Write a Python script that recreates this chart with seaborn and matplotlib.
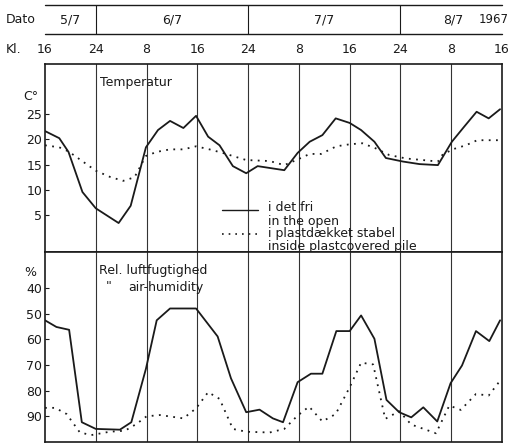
import numpy as np
import pandas as pd
import matplotlib
matplotlib.use("Agg")
import matplotlib.pyplot as plt
import seaborn as sns

# ---- data (hours since 5/7 kl. 16) ----
temp_open_h = [0, 2.25, 3.7, 5.9, 8.0, 11.6, 13.5, 15.9, 17.8, 19.7, 21.8, 23.8, 25.7, 27.5, 29.6, 31.7,
               33.5, 37.7, 39.8, 41.7, 43.7, 45.8, 48.0, 49.8, 51.9, 53.7, 56.4, 59.0, 61.9, 64.1, 66.0,
               68.0, 69.9, 71.7]
temp_open = [21.6, 20.2, 17.5, 9.6, 6.4, 3.5, 6.9, 18.4, 21.8, 23.6, 22.2, 24.6, 20.5, 18.8, 14.7, 13.3,
             14.7, 13.9, 17.3, 19.5, 20.8, 24.1, 23.2, 21.8, 19.5, 16.3, 15.6, 15.1, 14.9, 19.5, 22.4,
             25.4, 24.1, 25.9]
temp_pile_h = [0, 2.25, 3.7, 8.0, 10.2, 12.3, 14.1, 15.9, 17.6, 19.7, 21.8, 23.8, 25.9, 28.0, 30.1, 31.7,
               35.4, 37.7, 39.8, 41.7, 43.5, 45.9, 48.0, 50.0, 52.1, 54.2, 56.9, 59.5, 61.9, 62.6, 64.2,
               66.3, 68.1, 71.7]
temp_pile = [18.8, 18.4, 17.6, 13.8, 12.6, 11.8, 12.5, 16.7, 17.5, 18.0, 18.0, 18.6, 18.0, 17.3, 16.5, 15.9,
             15.7, 14.9, 16.0, 17.1, 17.1, 18.6, 19.0, 19.2, 18.2, 16.9, 16.2, 15.9, 15.6, 16.9, 18.0,
             18.8, 19.8, 19.8]

hum_open_h = [0, 1.8, 3.8, 5.8, 8.0, 11.8, 13.6, 15.9, 17.6, 19.7, 23.8, 27.2, 29.3, 31.7, 33.8, 35.9,
              37.5, 39.8, 41.9, 43.7, 45.9, 48.0, 49.8, 51.9, 53.8, 55.8, 57.7, 59.6, 61.8, 63.9, 65.7,
              67.9, 70.0, 71.7]
hum_open = [52.6, 55.2, 56.3, 92.3, 94.9, 95.2, 92.3, 71.5, 52.6, 48.0, 48.0, 58.9, 75.2, 88.4, 87.4, 90.8,
            92.3, 76.7, 73.4, 73.4, 56.8, 56.8, 50.7, 59.8, 83.6, 88.4, 90.4, 86.5, 92.0, 77.1, 70.2,
            56.8, 60.7, 52.6]
hum_pile_h = [0, 1.6, 3.4, 5.5, 7.3, 10.2, 12.6, 14.4, 16.0, 18.1, 21.8, 23.8, 25.7, 27.5, 29.6, 31.7,
              35.4, 37.7, 39.8, 41.6, 43.7, 45.8, 48.0, 49.8, 51.7, 53.6, 55.8, 57.7, 61.6, 63.7, 65.5,
              67.9, 69.9, 71.7]
hum_pile = [86.7, 86.7, 89.1, 96.3, 97.3, 96.0, 95.6, 93.0, 90.0, 89.5, 90.8, 86.9, 80.6, 83.2, 94.9, 96.0,
            96.3, 94.9, 89.7, 86.2, 92.0, 89.1, 78.7, 69.1, 69.8, 91.0, 88.0, 93.2, 96.6, 85.8, 87.5,
            81.3, 81.9, 76.1]

hour_ticks = [0, 8, 16, 24, 32, 40, 48, 56, 64, 72]
hour_labels = ["16", "24", "8", "16", "24", "8", "16", "24", "8", "16"]
date_bounds = [8, 32, 56]
date_labels = ["5/7", "6/7", "7/7", "8/7"]
date_label_pos = [4.0, 20.0, 44.0, 64.3]
temp_ticks = [5, 10, 15, 20, 25]
hum_ticks = [40, 50, 60, 70, 80, 90]

sns.set_style("white")
plt.rcParams['font.family'] = ['DejaVu Sans']

W, H = 511, 443
fig = plt.figure(figsize=(W / 100, H / 100), dpi=100)
x0, x1 = 45, 502
def fx(px):
    return px / W
def fy(py):
    return 1 - py / H

ax_hdr = fig.add_axes([fx(x0), fy(64), fx(x1) - fx(x0), 64 / H])
ax_t = fig.add_axes([fx(x0), fy(252), fx(x1) - fx(x0), 188 / H])
ax_h = fig.add_axes([fx(x0), fy(442), fx(x1) - fx(x0), 190 / H])

col = "#1a1a1a"
fs = 9

# header
ax_hdr.set_xlim(0, 72)
ax_hdr.set_ylim(0, 1)
ax_hdr.axis("off")
ax_hdr.plot([0, 72], [0.92, 0.92], color=col, lw=1.0, clip_on=False)
ax_hdr.plot([0, 72], [0.47, 0.47], color=col, lw=1.0, clip_on=False)
for b in date_bounds:
    ax_hdr.plot([b, b], [0.47, 0.92], color=col, lw=0.8)
for p, lab in zip(date_label_pos, date_labels):
    ax_hdr.text(p, 0.69, lab, ha="center", va="center", fontsize=fs, color=col)
ax_hdr.text(70.7, 0.69, "1967", ha="center", va="center", fontsize=8.5, color=col, clip_on=False)
ax_hdr.text(-3.9, 0.69, "Dato", ha="center", va="center", fontsize=fs, color=col, clip_on=False)
ax_hdr.text(-4.9, 0.22, "Kl.", ha="center", va="center", fontsize=fs, color=col, clip_on=False)
for t, lab in zip(hour_ticks, hour_labels):
    ax_hdr.text(t, 0.22, lab, ha="center", va="center", fontsize=fs, color=col, clip_on=False)

# temperature panel
df_t = pd.concat([
    pd.DataFrame({"h": temp_open_h, "v": temp_open, "s": "open"}),
    pd.DataFrame({"h": temp_pile_h, "v": temp_pile, "s": "pile"}),
])
df_h = pd.concat([
    pd.DataFrame({"h": hum_open_h, "v": hum_open, "s": "open"}),
    pd.DataFrame({"h": hum_pile_h, "v": hum_pile, "s": "pile"}),
])

for ax, df in [(ax_t, df_t), (ax_h, df_h)]:
    sns.lineplot(data=df[df.s == "open"], x="h", y="v", ax=ax, color=col, lw=1.3, sort=False)
    sns.lineplot(data=df[df.s == "pile"], x="h", y="v", ax=ax, color=col, lw=1.3,
                 linestyle=(0, (1, 3)), sort=False)
    ax.set_xlim(0, 72)
    ax.set_xticks([])
    ax.set_xlabel("")
    ax.set_ylabel("")
    for v in hour_ticks[1:-1]:
        ax.axvline(v, color="#333333", lw=0.8, zorder=0)
    for s in ax.spines.values():
        s.set_color(col)
        s.set_linewidth(1.2)
    ax.tick_params(axis="y", direction="in", length=3, width=0.8, pad=2, labelsize=fs,
                   colors=col, left=True)

ax_t.set_ylim(-2.2, 34.8)
ax_t.set_yticks(temp_ticks)
ax_t.text(-2.2, 28.5, "C°", ha="center", va="center", fontsize=fs, color=col, clip_on=False)
ax_t.text(8.7, 31.2, "Temperatur", ha="left", va="center", fontsize=fs, color=col)
ax_t.plot([27.9, 33.6], [6.0, 6.0], color=col, lw=1.0)
ax_t.plot([27.9, 33.6], [1.3, 1.3], color=col, lw=1.2, linestyle=(0, (1, 3)))
ax_t.text(35.2, 6.6, "i det fri", ha="left", va="center", fontsize=fs, color=col)
ax_t.text(35.2, 3.9, "in the open", ha="left", va="center", fontsize=fs, color=col)
ax_t.text(35.2, 1.4, "i plastdækket stabel", ha="left", va="center", fontsize=fs, color=col)
ax_t.text(35.2, -1.2, "inside plastcovered pile", ha="left", va="center", fontsize=fs, color=col)

ax_h.set_ylim(100, 26)
ax_h.set_yticks(hum_ticks)
ax_h.text(-2.4, 33.8, "%", ha="center", va="center", fontsize=fs, color=col, clip_on=False)
ax_h.text(8.5, 33.1, "Rel. luftfugtighed", ha="left", va="center", fontsize=fs, color=col)
ax_h.text(10.0, 39.5, '"', ha="center", va="center", fontsize=fs, color=col)
ax_h.text(13.1, 39.7, "air-humidity", ha="left", va="center", fontsize=fs, color=col)

fig.savefig("out.png", dpi=100)
